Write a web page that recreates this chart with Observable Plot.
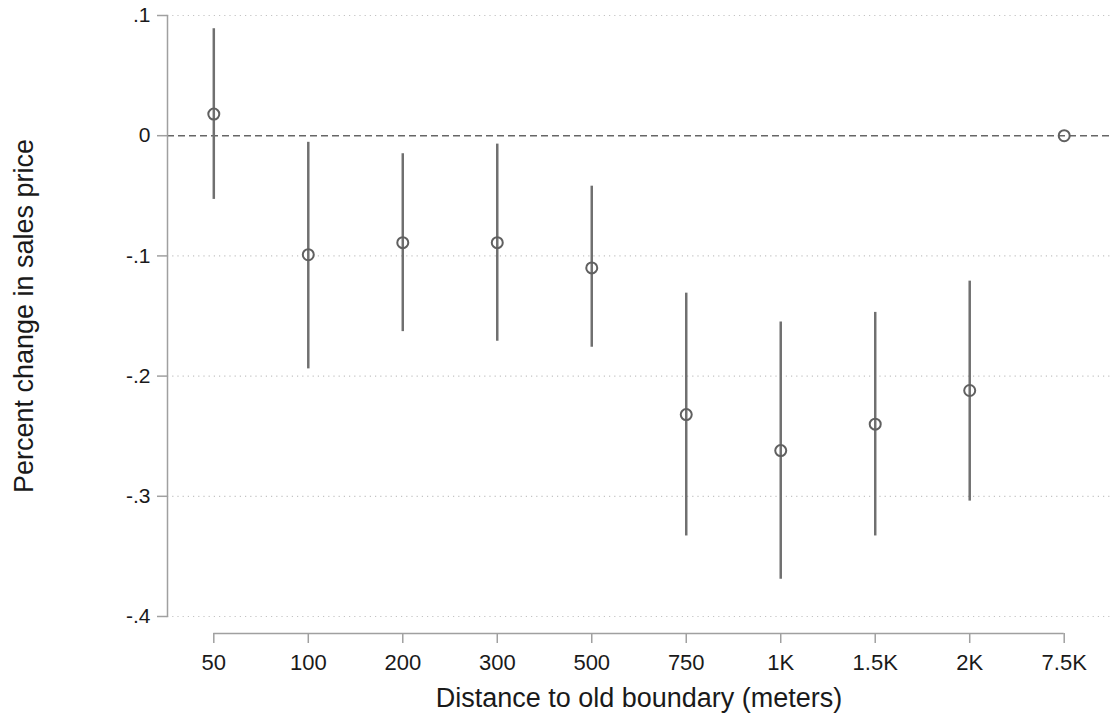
<!DOCTYPE html>
<html><head><meta charset="utf-8">
<script src="https://cdn.jsdelivr.net/npm/d3@7"></script>
<script src="https://cdn.jsdelivr.net/npm/@observablehq/plot@0.6"></script>
<style>html,body{margin:0;padding:0;background:#fff}</style>
</head><body><div id="chart"></div>
<script>
const distances = ["50","100","200","300","500","750","1K","1.5K","2K","7.5K"];
const estimates = [0.018,-0.099,-0.089,-0.089,-0.110,-0.232,-0.262,-0.240,-0.212,0];
const ciLow =  [-0.053,-0.194,-0.163,-0.171,-0.176,-0.333,-0.369,-0.333,-0.304,null];
const ciHigh = [0.089,-0.0055,-0.015,-0.007,-0.042,-0.131,-0.155,-0.147,-0.121,null];
const yTicks = [0.1,0,-0.1,-0.2,-0.3,-0.4];
const gridTicks = [0.1,-0.1,-0.2,-0.3,-0.4];
const xTitle = "Distance to old boundary (meters)";
const yTitle = "Percent change in sales price";

const rows = distances.map((d,i)=>({distance:d, est:estimates[i], lo:ciLow[i], hi:ciHigh[i]}));
const ciRows = rows.filter(r => r.lo != null);
const fmt = v => v === 0 ? "0" : d3.format(".1f")(v).replace("\u2212", "-").replace("0.", ".");

const chart = Plot.plot({
  width: 1110, height: 719,
  marginLeft: 167, marginRight: 0, marginTop: 15, marginBottom: 103,
  style: {fontFamily: "'Liberation Sans', Arial, Helvetica, sans-serif", background: "#fff", color: "#1a1a1a"},
  x: {type: "point", domain: distances, padding: 0.49, round: false, label: null},
  y: {domain: [-0.4, 0.1], label: null},
  marks: [
    Plot.ruleY(gridTicks, {stroke: "#c4c4c4", strokeDasharray: "1.2,4", strokeWidth: 1.2}),
    Plot.ruleY([0], {stroke: "#666", strokeDasharray: "7,4", strokeWidth: 1.5}),
    Plot.frame({anchor: "left", stroke: "#a0a0a0", strokeWidth: 1.5, strokeOpacity: 1}),
    Plot.axisY(yTicks, {tickSize: 10, tickPadding: 7, stroke: "#a0a0a0", strokeWidth: 1.5, strokeOpacity: 1, tickFormat: fmt, fontSize: 21, fill: "#1a1a1a", label: null}),
    Plot.ruleY([-0.4], {x1: () => distances[0], x2: () => distances[distances.length-1], dy: 17, stroke: "#a0a0a0", strokeWidth: 1.5}),
    Plot.axisX({tickSize: 10, dy: 17, tickPadding: 11, stroke: "#a0a0a0", strokeWidth: 1.5, strokeOpacity: 1, fontSize: 22, fill: "#1a1a1a", label: null}),
    Plot.ruleX(ciRows, {x: "distance", y1: "lo", y2: "hi", stroke: "#707070", strokeWidth: 2.5}),
    Plot.dot(rows, {x: "distance", y: "est", r: 5.5, stroke: "#606060", strokeWidth: 2, fill: "none"}),
    Plot.text([yTitle], {frameAnchor: "left", dx: -143, rotate: -90, lineAnchor: "middle", textAnchor: "middle", fontSize: 27, fill: "#1a1a1a"}),
    Plot.text([xTitle], {frameAnchor: "bottom", dy: 82, lineAnchor: "middle", textAnchor: "middle", fontSize: 27, fill: "#1a1a1a"})
  ]
});
document.getElementById("chart").appendChild(chart);
</script>
</body></html>
